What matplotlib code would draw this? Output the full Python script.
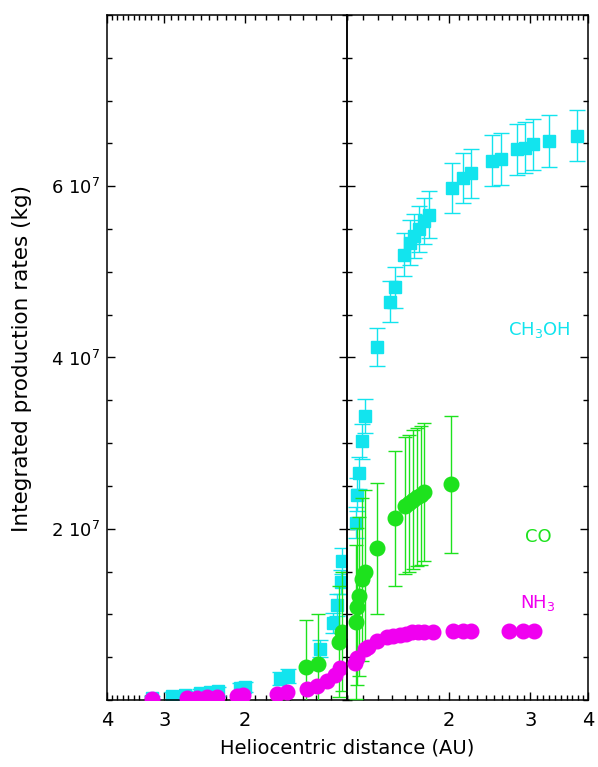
import matplotlib
matplotlib.use("Agg")
import matplotlib.pyplot as plt
from matplotlib.ticker import FixedLocator, NullFormatter, FixedFormatter, MultipleLocator, FuncFormatter

# ---------------- data (heliocentric distance in AU, rates in 1e7 kg) ----------------
# pre-perihelion (left panel)
ch3oh_pre_r = [3.185, 2.882, 2.700, 2.505, 2.383, 2.289, 2.051, 2.000, 1.678, 1.612, 1.374, 1.287, 1.262, 1.237, 1.231]
ch3oh_pre_v = [0.02, 0.05, 0.06, 0.08, 0.09, 0.10, 0.14, 0.15, 0.25, 0.28, 0.60, 0.90, 1.11, 1.38, 1.62]
ch3oh_pre_e = [0.03, 0.04, 0.04, 0.05, 0.05, 0.05, 0.06, 0.06, 0.08, 0.08, 0.10, 0.12, 0.13, 0.14, 0.15]

co_pre_r = [1.473, 1.387, 1.249, 1.231]
co_pre_v = [0.39, 0.42, 0.68, 0.80]
co_pre_e = [0.55, 0.58, 0.65, 0.70]

nh3_pre_r = [3.185, 2.673, 2.542, 2.418, 2.300, 2.081, 2.020, 1.703, 1.620, 1.466, 1.394, 1.326, 1.274, 1.243]
nh3_pre_v = [0.01, 0.02, 0.02, 0.03, 0.03, 0.05, 0.06, 0.07, 0.09, 0.13, 0.16, 0.22, 0.29, 0.37]

# post-perihelion (right panel)
ch3oh_post_r = [1.256, 1.262, 1.275, 1.294, 1.314, 1.395, 1.490, 1.528, 1.598, 1.647, 1.681, 1.723, 1.767, 1.812,
                2.024, 2.139, 2.227, 2.476, 2.590, 2.807, 2.922, 3.042, 3.297, 3.795]
ch3oh_post_v = [2.07, 2.40, 2.65, 3.02, 3.32, 4.12, 4.65, 4.82, 5.20, 5.34, 5.42, 5.50, 5.59, 5.67,
                5.98, 6.10, 6.15, 6.30, 6.32, 6.43, 6.45, 6.49, 6.53, 6.59]
ch3oh_post_e = [0.18, 0.19, 0.19, 0.20, 0.20, 0.22, 0.24, 0.24, 0.25, 0.26, 0.26, 0.27, 0.27, 0.27,
                0.29, 0.29, 0.29, 0.30, 0.30, 0.30, 0.30, 0.30, 0.30, 0.30]

co_post_r = [1.256, 1.262, 1.275, 1.294, 1.314, 1.395, 1.528, 1.606, 1.639, 1.672, 1.706, 1.741, 1.767, 2.015]
co_post_v = [0.91, 1.09, 1.21, 1.41, 1.50, 1.77, 2.12, 2.27, 2.30, 2.34, 2.37, 2.39, 2.43, 2.52]
co_post_e = [0.90, 0.92, 0.93, 0.95, 0.95, 0.77, 0.79, 0.80, 0.80, 0.81, 0.81, 0.81, 0.81, 0.80]

nh3_post_r = [1.249, 1.262, 1.314, 1.334, 1.395, 1.467, 1.512, 1.566, 1.614, 1.664, 1.715, 1.767, 1.840,
              2.035, 2.139, 2.227, 2.697, 2.893, 3.057]
nh3_post_v = [0.43, 0.49, 0.60, 0.62, 0.69, 0.74, 0.75, 0.76, 0.77, 0.79, 0.79, 0.80, 0.80,
              0.81, 0.81, 0.81, 0.81, 0.81, 0.81]

species_labels = ["CH$_3$OH", "CO", "NH$_3$"]
xtick_vals = [2, 3, 4]
ytick_vals = [2, 4, 6]

# ---------------- style ----------------
CYAN = "#12e4ee"
GREEN = "#1de21d"
MAGENTA = "#f000f0"
plt.rcParams["font.family"] = ["DejaVu Sans"]

fig = plt.figure(figsize=(5.98, 7.67), dpi=100)
R0, R1 = 1.2, 4.0
axL = fig.add_axes([107/598, 1-700/767, 240/598, 685/767])
axR = fig.add_axes([347/598, 1-700/767, 241/598, 685/767])

def plot_panel(ax, c_r, c_v, c_e, o_r, o_v, o_e, n_r, n_v):
    ax.errorbar(c_r, c_v, yerr=c_e, fmt="s", color=CYAN, ms=8, mec=CYAN, ecolor=CYAN,
                elinewidth=1, capsize=6, capthick=1, zorder=2)
    ax.errorbar(o_r, o_v, yerr=o_e, fmt="o", color=GREEN, ms=10.5, mec=GREEN, ecolor=GREEN,
                elinewidth=1, capsize=5, capthick=1, zorder=3)
    ax.plot(n_r, n_v, "o", color=MAGENTA, ms=10.5, mec=MAGENTA, zorder=4)

plot_panel(axL, ch3oh_pre_r, ch3oh_pre_v, ch3oh_pre_e, co_pre_r, co_pre_v, co_pre_e, nh3_pre_r, nh3_pre_v)
plot_panel(axR, ch3oh_post_r, ch3oh_post_v, ch3oh_post_e, co_post_r, co_post_v, co_post_e, nh3_post_r, nh3_post_v)

minor = [round(1.2 + 0.1*i, 1) for i in range(29) if round(1.2 + 0.1*i, 1) not in (2.0, 3.0, 4.0)]
for ax in (axL, axR):
    ax.set_xscale("log")
    ax.set_ylim(0, 8)
    ax.xaxis.set_major_locator(FixedLocator(xtick_vals))
    ax.xaxis.set_minor_locator(FixedLocator(minor))
    ax.xaxis.set_major_formatter(FixedFormatter([str(v) for v in xtick_vals]))
    ax.xaxis.set_minor_formatter(NullFormatter())
    ax.yaxis.set_major_locator(FixedLocator(ytick_vals))
    ax.yaxis.set_minor_locator(MultipleLocator(0.5))
    ax.tick_params(which="both", direction="in", top=True, bottom=True, left=True, right=True,
                   width=1, colors="black")
    ax.tick_params(which="major", length=6)
    ax.tick_params(which="minor", length=3.5)
    ax.tick_params(axis="x", labelsize=14, pad=8)
    for s in ax.spines.values():
        s.set_linewidth(1.1)
    ax.patch.set_alpha(0)

axL.set_xlim(R1, R0)
axR.set_xlim(R0, R1)
axL.yaxis.set_major_formatter(FuncFormatter(lambda v, p: f"{int(v)} 10$^7$"))
axL.tick_params(axis="y", labelsize=13, pad=5)
axR.tick_params(axis="y", labelleft=False)

fig.text(22/598, 1-358/767, "Integrated production rates (kg)", fontsize=15.5,
         rotation=90, ha="center", va="center")
fig.text(347/598, 1-748/767, "Heliocentric distance (AU)", fontsize=14, ha="center", va="center")

fig.text(539/598, 1-330/767, species_labels[0], color=CYAN, fontsize=13, ha="center", va="center")
fig.text(538/598, 1-537/767, species_labels[1], color=GREEN, fontsize=13, ha="center", va="center")
fig.text(538/598, 1-603/767, species_labels[2], color=MAGENTA, fontsize=13, ha="center", va="center")

fig.savefig("out.png", dpi=100)
